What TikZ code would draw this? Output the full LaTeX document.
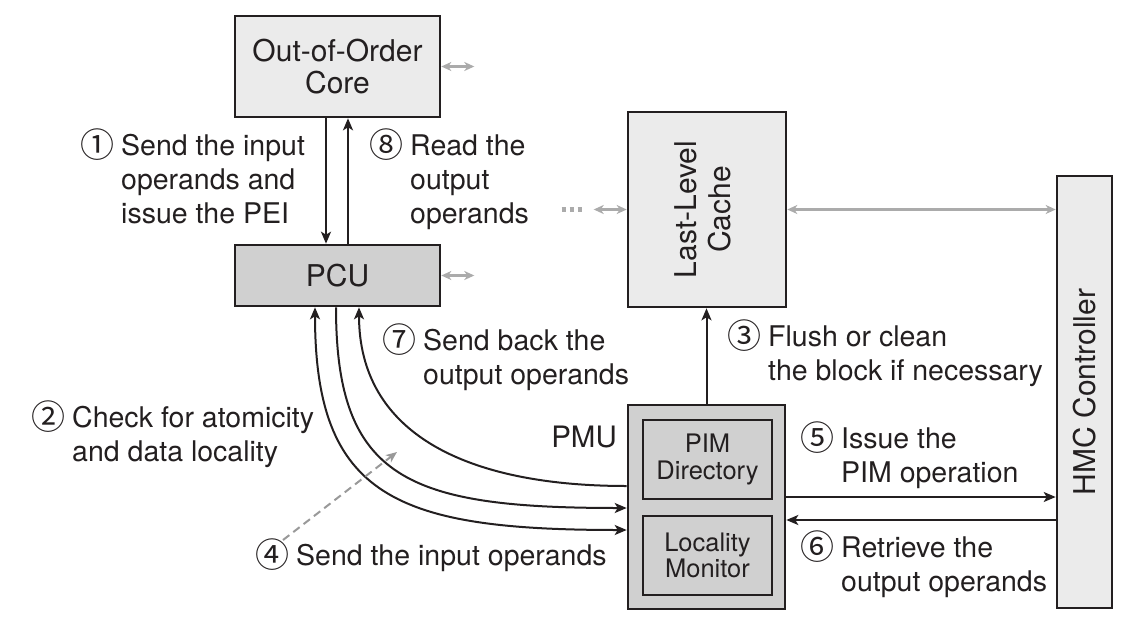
\documentclass[tikz,border=0pt]{standalone}
\usepackage{fontspec}
\usepackage{graphicx}
\setmainfont{TeX Gyre Heros}
\newfontfamily\circfont{Noto Sans CJK JP}
\usetikzlibrary{arrows.meta,calc}
\definecolor{ink}{HTML}{231F20}
\definecolor{lightbox}{HTML}{EBEBEB}
\definecolor{darkbox}{HTML}{D0D0D0}
\definecolor{garr}{HTML}{ABABAB}
\definecolor{gdsh}{HTML}{999999}
\newlength\numw
\setlength\numw{39pt}
\newcommand\cnum[1]{\makebox[\numw][l]{\hspace*{-1.5pt}\raisebox{-2pt}{\circfont\fontsize{34}{34}\selectfont #1}}}
\newcommand\hangi{\hspace*{\numw}}
\begin{document}
\begin{tikzpicture}[x=1pt,y=-1pt,
  >={Stealth[length=12pt,width=10pt,inset=3pt]},
  box/.style={draw=ink, line width=2.6pt, text=ink, align=center, inner sep=0pt,
    font=\fontsize{30}{32}\selectfont},
  lbox/.style={box, fill=lightbox},
  dbox/.style={box, fill=darkbox},
  ibox/.style={draw=ink, line width=2.3pt, fill=darkbox, text=ink, align=center,
    inner sep=0pt, font=\fontsize{25.5}{26.5}\selectfont,
    minimum width=129pt, minimum height=79pt},
  conn/.style={draw=ink, line width=2pt},
  garrow/.style={draw=garr, line width=2.6pt,
    {Stealth[length=10pt,width=9pt,inset=3pt]}-{Stealth[length=10pt,width=9pt,inset=3pt]}},
  gdots/.style={draw=garr, line width=4.7pt, dash pattern=on 4.7pt off 3.3pt},
  gdash/.style={draw=gdsh, line width=2pt, dash pattern=on 8pt off 5pt,
    -{Stealth[length=11pt,width=9pt,inset=3pt]}},
  note/.style={font=\fontsize{28.5}{34}\selectfont, text=ink, align=left,
    anchor=base west, inner sep=0pt}
]
\useasboundingbox (0,0) rectangle (1127,624);

% boxes
\node[lbox, minimum width=205pt, minimum height=101pt] (core) at (337.5,66.5) {Out-of-Order\\Core};
\node[dbox, minimum width=205pt, minimum height=61pt] (pcu) at (337.5,275.5) {PCU};
\node[lbox, minimum width=158pt, minimum height=195pt] (llc) at (707,209.5)
  {\rotatebox{90}{\fontsize{30}{34}\selectfont\begin{tabular}{@{}c@{}}Last-Level\\Cache\end{tabular}}};
\node[lbox, minimum width=55pt, minimum height=432pt] (hmc) at (1084.5,392)
  {\rotatebox{90}{HMC Controller}};
\node[dbox, minimum width=157pt, minimum height=204pt] (pmu) at (706.5,507) {};
\node[ibox] (pimdir) at (707.5,459.5) {PIM\\Directory};
\node[ibox] (locmon) at (707.5,555.5) {Locality\\Monitor};
\node[anchor=base east, inner sep=0pt, text=ink, font=\fontsize{29.5}{32}\selectfont] (pmulab) at (617,447) {PMU};

% black connectors
\draw[conn,->] ([xshift=-11.5pt]core.south) -- ([xshift=-11.5pt]pcu.north);
\draw[conn,<-] ([xshift=10.5pt]core.south) -- ([xshift=10.5pt]pcu.north);
\draw[conn,->] (pmu.north) -- (pmu.north |- llc.south);
\draw[conn,->] ([yshift=10pt]pmu.east) -- ([yshift=10pt]pmu.east -| hmc.west);
\draw[conn,<-] ([yshift=-13pt]pmu.east) -- ([yshift=-13pt]pmu.east -| hmc.west);
\draw[conn,<->] ([xshift=-22.5pt]pcu.south) .. controls +(0,190) and +(-230,0) .. ([yshift=-23pt]pmu.west);
\draw[conn,->] ([xshift=-1.5pt]pcu.south) .. controls +(0,172) and +(-219,0) .. ([yshift=-1pt]pmu.west);
\draw[conn,<-] ([xshift=21.5pt]pcu.south) .. controls +(0,126) and +(-161,0) .. ([yshift=21pt]pmu.west);

% gray connectors
\draw[garrow] (core.east) -- ([xshift=33pt]core.east);
\draw[garrow] (pcu.east) -- ([xshift=33pt]pcu.east);
\draw[garrow] (llc.west) -- ([xshift=-33pt]llc.west);
\draw[gdots] ([xshift=-65pt]llc.west) -- ([xshift=-42pt]llc.west);
\draw[garrow] (llc.east) -- (llc.east -| hmc.west);
\coordinate (d4a) at (283,540);
\coordinate (d4b) at (397,452);
\draw[gdash] (d4a) -- (d4b);

% annotations (anchor = baseline of the last line)
\node[note] (n1) at (82,223) {\cnum{①}Send the input\\\hangi operands and\\\hangi issue the PEI};
\node[note] (n8) at (371,223) {\cnum{⑧}Read the\\\hangi output\\\hangi operands};
\node[note] (n3) at (729,380) {\cnum{③}Flush or clean\\\hangi the block if necessary};
\node[note] (n7) at (384,384) {\cnum{⑦}Send back the\\\hangi output operands};
\node[note] (n2) at (33,461) {\cnum{②}Check for atomicity\\\hangi and data locality};
\node[note] (n4) at (257,565) {\cnum{④}Send the input operands};
\node[note] (n5) at (802,482) {\cnum{⑤}Issue the\\\hangi PIM operation};
\node[note] (n6) at (802,591) {\cnum{⑥}Retrieve the\\\hangi output operands};
\end{tikzpicture}
\end{document}
